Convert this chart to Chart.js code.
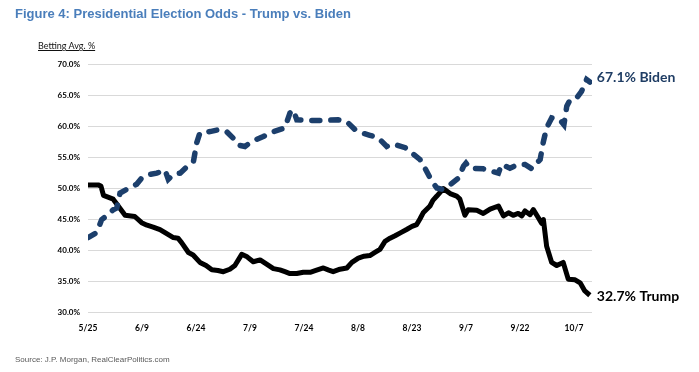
<!DOCTYPE html>
<html>
<head>
<meta charset="utf-8">
<script src="https://cdn.jsdelivr.net/npm/chart.js@4"></script>
<style>
  body { margin: 0; background: #fff; }
  #wrap { position: absolute; left: 0; top: 0; width: 699px; height: 372px; }
  #title { position: absolute; left: 15px; top: 6px; font: bold 13px 'Liberation Sans', Arial, sans-serif; color: #4a7ebb; white-space: nowrap; }
  #ylab { position: absolute; left: 38px; top: 40px; font: 9px Lato, sans-serif; color: #111; text-decoration: underline; white-space: nowrap; }
  #source { position: absolute; left: 15px; top: 355px; font: 8px 'Liberation Sans', Arial, sans-serif; color: #595959; white-space: nowrap; }
</style>
</head>
<body>
<div id="wrap"><canvas id="chart"></canvas></div>
<div id="title">Figure 4: Presidential Election Odds - Trump vs. Biden</div>
<div id="ylab">Betting Avg. %</div>
<div id="source">Source: J.P. Morgan, RealClearPolitics.com</div>
<script>
// days since 5/25
const xTickLabels = ['5/25', '6/9', '6/24', '7/9', '7/24', '8/8', '8/23', '9/7', '9/22', '10/7'];

const bidenDays = [0, 2.4, 3.8, 5.6, 7, 8, 8.9, 10.8, 13.5, 14.9, 17.2, 19.1, 21.4, 22.3, 23.7, 25.6, 28.3, 29.3, 30.2, 31.1,
  33.9, 36.2, 38.5, 40.4, 41.8, 43.6, 45.5, 48.7, 51.5, 54.7, 56.1, 57, 58, 61.7, 65.4, 69.5, 71.9, 74.2, 76, 78.3,
  80.6, 83, 84.8, 88.1, 89.9, 92.2, 93.6, 95.5, 96.9, 98.3, 100.1, 102.9, 104.3, 105, 106.1, 109.8, 112.1, 114, 114.9, 117.2,
  119.5, 121.4, 123.3, 125.6, 126.5, 127.4, 128.8, 131.1, 132.2, 133, 133.9, 135.7, 137.1, 138.5, 139.4];
const bidenOdds = [42.0, 42.8, 44.9, 45.7, 46.5, 46.8, 49.2, 49.8, 50.6, 51.6, 52.2, 52.4, 52.9, 51.4, 52.2, 52.4, 53.9, 54.3, 57.3, 58.9,
  59.1, 59.4, 59.1, 58.0, 56.9, 56.7, 57.5, 58.3, 59.1, 59.7, 62.1, 62.6, 61.0, 60.9, 60.9, 61.0, 60.7, 59.4, 58.9, 58.5,
  58.1, 56.7, 57.1, 56.5, 55.7, 54.6, 53.2, 51.1, 50.0, 49.8, 50.3, 51.6, 53.5, 54.0, 53.2, 53.1, 52.7, 52.4, 53.8, 53.2,
  53.8, 53.8, 53.1, 54.6, 57.5, 59.7, 61.3, 61.0, 60.2, 63.2, 64.2, 64.5, 65.6, 67.5, 67.1];

const trumpDays = [0, 2.8, 3.6, 4.3, 7, 8.4, 10.3, 13, 14.9, 16.4, 18.1, 20, 21.4, 23.7, 25, 26, 27.9, 29.2, 31.1, 32.8,
  34.4, 36.1, 37.6, 39.4, 40.8, 42.7, 44.2, 45.9, 47.8, 49.4, 51.5, 53.3, 54.7, 56.1, 58, 59.8, 61.7, 63.3, 65.4, 66.7,
  68.1, 70, 71.9, 73.3, 75.1, 76.7, 78.3, 79.7, 81.1, 82.5, 83.9, 85.3, 86.9, 88.5, 90, 91.3, 92.2, 93.1, 95, 95.8,
  96.9, 98.7, 100.6, 102.4, 103.3, 104.7, 105.6, 108, 109.8, 111.7, 114, 115.4, 116.8, 118.1, 119.5, 120.5, 121.4, 122.8, 123.7, 125.1,
  126, 126.5, 127.4, 128.8, 130.2, 132, 133.4, 135.3, 136.7, 138, 139.4];
const trumpOdds = [50.5, 50.5, 50.3, 48.8, 48.2, 47.1, 45.6, 45.4, 44.4, 44.0, 43.7, 43.3, 42.8, 42.0, 41.9, 41.2, 39.6, 39.2, 38.0, 37.5,
  36.8, 36.7, 36.5, 36.9, 37.5, 39.3, 38.9, 38.1, 38.4, 37.8, 37.0, 36.8, 36.5, 36.2, 36.2, 36.4, 36.4, 36.7, 37.1, 36.8,
  36.5, 36.9, 37.1, 38.0, 38.7, 39.0, 39.1, 39.6, 40.1, 41.4, 41.9, 42.3, 42.8, 43.3, 43.8, 44.1, 45.0, 46.0, 47.1, 48.0,
  48.7, 49.9, 49.1, 48.7, 48.2, 45.6, 46.5, 46.4, 45.9, 46.6, 47.1, 45.5, 46.0, 45.6, 45.9, 45.5, 46.3, 45.7, 46.5, 45.2,
  44.3, 44.9, 40.6, 38.0, 37.5, 38.0, 35.3, 35.2, 34.7, 33.4, 32.7];

const BIDEN = '#1c3f6c';
const TRUMP = '#000000';

const toPoints = (xs, ys) => xs.map((d, i) => ({ x: d, y: ys[i] }));

// "67.1% Biden" / "32.7% Trump" next to the last point of each line
const endLabels = {
  id: 'endLabels',
  afterDatasetsDraw(chart) {
    const ctx = chart.ctx;
    ctx.save();
    ctx.font = 'bold 14px Lato, sans-serif';
    ctx.textBaseline = 'middle';
    chart.data.datasets.forEach((ds, i) => {
      const meta = chart.getDatasetMeta(i);
      const pt = meta.data[meta.data.length - 1];
      const last = ds.data[ds.data.length - 1].y;
      ctx.fillStyle = ds.labelColor;
      ctx.fillText(last.toFixed(1) + '% ' + ds.label, pt.x + 7, pt.y + ds.labelShift);
    });
    ctx.restore();
  }
};

new Chart(document.getElementById('chart'), {
  type: 'line',
  data: {
    datasets: [
      {
        label: 'Biden',
        data: toPoints(bidenDays, bidenOdds),
        borderColor: BIDEN,
        borderWidth: 5.5,
        borderDash: [8, 11],
        borderCapStyle: 'round',
        pointRadius: 0,
        tension: 0,
        labelColor: '#1f3d64',
        labelShift: -4
      },
      {
        label: 'Trump',
        data: toPoints(trumpDays, trumpOdds),
        borderColor: TRUMP,
        borderWidth: 5,
        borderJoinStyle: 'round',
        pointRadius: 0,
        tension: 0,
        labelColor: '#000',
        labelShift: 1
      }
    ]
  },
  options: {
    responsive: true,
    maintainAspectRatio: false,
    animation: false,
    layout: { padding: { left: 0, top: 64, right: 107, bottom: 0 } },
    plugins: { legend: { display: false }, tooltip: { enabled: false } },
    scales: {
      x: {
        type: 'linear',
        min: 0,
        max: 140,
        afterFit(scale) { scale.height = 60; },
        grid: { display: false },
        border: { display: false },
        ticks: {
          stepSize: 15,
          includeBounds: false,
          maxRotation: 0,
          padding: 3,
          color: '#000',
          font: { family: 'Lato', weight: 'bold', size: 8.5 },
          callback: (v) => xTickLabels[Math.round(v / 15)]
        }
      },
      y: {
        min: 30,
        max: 70,
        afterFit(scale) { scale.width = 88; },
        grid: { color: '#d9d9d9', lineWidth: 1, drawTicks: false },
        border: { display: false },
        ticks: {
          stepSize: 5,
          padding: 8,
          color: '#000',
          font: { family: 'Lato', weight: 'bold', size: 8 },
          callback: (v) => v.toFixed(1) + '%'
        }
      }
    }
  },
  plugins: [endLabels]
});
</script>
</body>
</html>
